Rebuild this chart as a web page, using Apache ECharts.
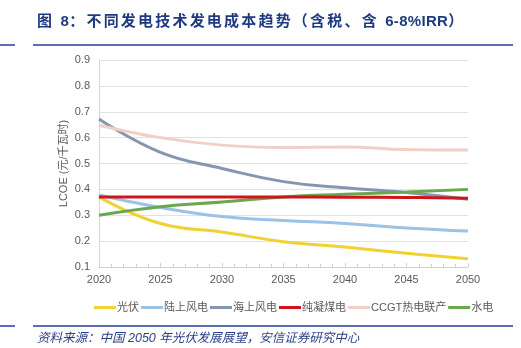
<!DOCTYPE html>
<html>
<head>
<meta charset="utf-8">
<script src="https://cdn.jsdelivr.net/npm/echarts@6/dist/echarts.min.js"></script>
<style>
  html, body { margin: 0; padding: 0; background: #fff; }
  #wrap { position: relative; width: 521px; height: 348px; overflow: hidden; }
  #chart { position: absolute; left: 0; top: 0; width: 521px; height: 348px; }
  .title { position: absolute; left: 37px; top: 9px; font-family: "Liberation Sans", "Noto Sans CJK SC", sans-serif; font-weight: bold; font-size: 15px; letter-spacing: 2.2px; color: #1f3a80; white-space: nowrap; }
  .title .lat { letter-spacing: 0.3px; }
  .rule { position: absolute; height: 2px; background: #5a6fb3; }
  .source { position: absolute; left: 37px; top: 327px; font-family: "Liberation Sans", "Noto Sans CJK SC", sans-serif; font-style: italic; font-size: 12.5px; color: #2a3f86; white-space: nowrap; }
</style>
</head>
<body>
<div id="wrap">
  <div id="chart"></div>
  <div class="title">图 <span class="lat">8</span>：不同发电技术发电成本趋势（含税、含 <span class="lat">6-8%IRR</span>）</div>
  <div class="rule" style="left:0;top:44px;width:15px"></div>
  <div class="rule" style="left:33px;top:44px;width:480px"></div>
  <div class="rule" style="left:0;top:325px;width:15px"></div>
  <div class="rule" style="left:33px;top:325px;width:480px"></div>
  <div class="source">资料来源：中国 2050 年光伏发展展望，安信证券研究中心</div>
</div>
<script>
// Years shared by every series
const years = [2020, 2025, 2030, 2035, 2040, 2045, 2050];

// LCOE (元/千瓦时) by technology
const solarPV      = [0.370, 0.268, 0.235, 0.198, 0.177, 0.153, 0.132];
const onshoreWind  = [0.378, 0.330, 0.295, 0.280, 0.268, 0.251, 0.239];
const offshoreWind = [0.672, 0.543, 0.481, 0.430, 0.406, 0.388, 0.362];
const coal         = [0.371, 0.371, 0.371, 0.371, 0.370, 0.369, 0.366];
const ccgtChp      = [0.648, 0.600, 0.571, 0.562, 0.564, 0.554, 0.552];
const hydro        = [0.300, 0.333, 0.351, 0.371, 0.381, 0.390, 0.400];

const seriesNames  = ['光伏', '陆上风电', '海上风电', '纯凝煤电', 'CCGT热电联产', '水电'];
const seriesColors = ['#f2d232', '#9cc2e5', '#8496b0', '#d0141c', '#f2cfc6', '#6aa84f'];
const seriesData   = [solarPV, onshoreWind, offshoreWind, coal, ccgtChp, hydro];

const chart = echarts.init(document.getElementById('chart'), null, { renderer: 'canvas' });

const textColor = '#595959';
const fontFamily = '"Liberation Sans", "Noto Sans CJK SC", sans-serif';

chart.setOption({
  animation: false,
  textStyle: { fontFamily: fontFamily },
  grid: { left: 99, right: 53, top: 60, bottom: 81, containLabel: false },
  legend: {
    left: 89,
    top: 297,
    width: 440,
    icon: 'rect',
    itemWidth: 22,
    itemHeight: 3,
    itemGap: 2,
    textStyle: { color: textColor, fontSize: 11, padding: [0, 0, 0, -4] },
    data: seriesNames
  },
  xAxis: {
    type: 'value',
    min: 2020,
    max: 2050,
    interval: 5,
    axisLine: { show: true, lineStyle: { color: '#d0d0d0', width: 1 } },
    axisTick: { show: true, length: 4, inside: true, lineStyle: { color: '#d0d0d0' } },
    minorTick: { show: true, splitNumber: 5, length: 3, lineStyle: { color: '#d0d0d0' } },
    splitLine: { show: false },
    axisLabel: { color: textColor, fontSize: 11, margin: 7, formatter: v => String(v) }
  },
  yAxis: {
    type: 'value',
    min: 0.1,
    max: 0.9,
    interval: 0.1,
    name: 'LCOE (元/千瓦时)',
    nameLocation: 'middle',
    nameGap: 30,
    nameMoveOverlap: false,
    nameTextStyle: { color: textColor, fontSize: 11 },
    axisLine: { show: true, lineStyle: { color: '#d6d6d6' } },
    axisTick: { show: false },
    splitLine: { show: true, lineStyle: { color: '#e2e2e2', width: 1 } },
    axisLabel: {
      color: textColor, fontSize: 11, margin: 9,
      formatter: v => v.toFixed(1)
    }
  },
  series: seriesData.map((vals, i) => ({
    name: seriesNames[i],
    type: 'line',
    smooth: 0.45,
    showSymbol: false,
    symbol: 'none',
    z: i === 3 ? 4 : 2,
    lineStyle: { width: 3, color: seriesColors[i] },
    itemStyle: { color: seriesColors[i] },
    data: years.map((y, k) => [y, vals[k]])
  }))
});
</script>
</body>
</html>
